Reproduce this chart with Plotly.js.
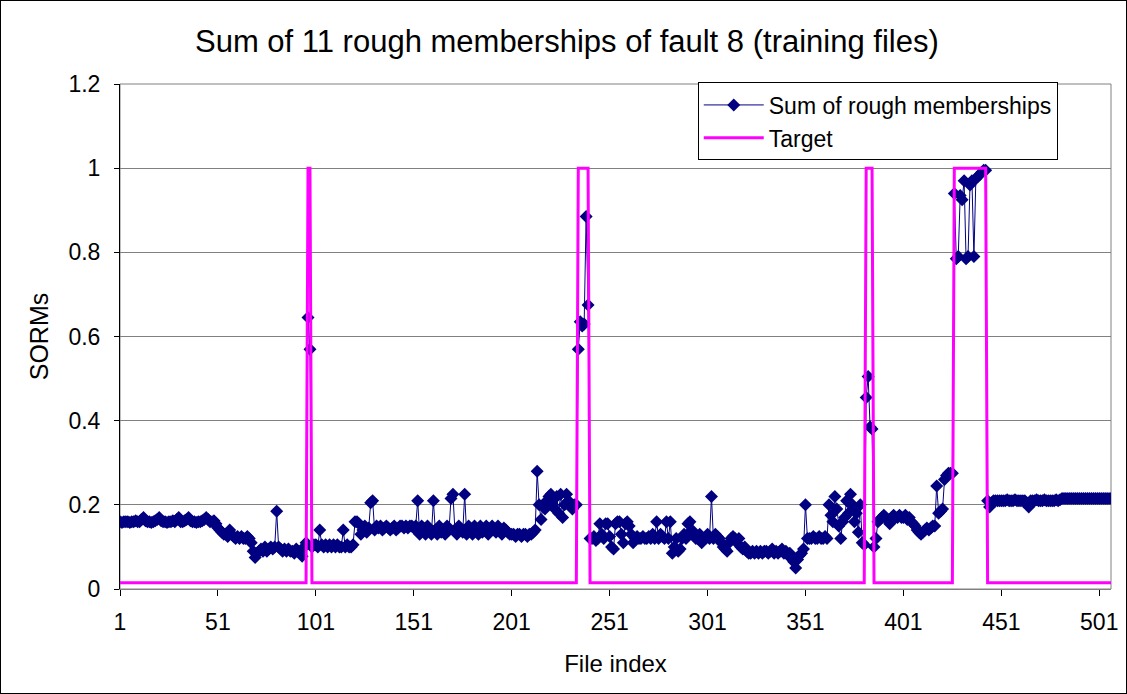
<!DOCTYPE html>
<html>
<head>
<meta charset="utf-8">
<script src="https://cdn.plot.ly/plotly-3.0.1.min.js"></script>
<style>
html,body{margin:0;padding:0;background:#fff;}
#wrap{position:relative;width:1127px;height:694px;}
#chart{position:absolute;left:0;top:0;width:1127px;height:694px;}
#frame{position:absolute;left:0;top:0;width:1127px;height:694px;box-sizing:border-box;border:1px solid #000;pointer-events:none;}
</style>
</head>
<body>
<div id="wrap"><div id="chart"></div><div id="frame"></div></div>
<script>
// Sum of rough memberships, file index 1..507
const sorms = [
0.16,0.158,0.16,0.16,0.16,0.158,0.16,0.16,0.162,0.16,
0.16,0.165,0.17,0.162,0.16,0.16,0.158,0.16,0.162,0.165,
0.17,0.162,0.16,0.16,0.158,0.16,0.16,0.162,0.16,0.165,
0.17,0.16,0.16,0.162,0.165,0.17,0.162,0.16,0.16,0.158,
0.16,0.16,0.162,0.165,0.17,0.165,0.16,0.16,0.162,0.155,
0.145,0.14,0.135,0.13,0.13,0.125,0.14,0.13,0.125,0.12,
0.125,0.12,0.125,0.12,0.12,0.125,0.12,0.11,0.09,0.075,
0.085,0.09,0.095,0.09,0.1,0.09,0.095,0.1,0.095,0.1,
0.185,0.1,0.095,0.09,0.095,0.09,0.095,0.09,0.09,0.085,
0.095,0.09,0.085,0.078,0.1,0.11,0.645,0.57,0.1,0.105,
0.105,0.1,0.14,0.105,0.1,0.105,0.1,0.105,0.1,0.105,
0.1,0.105,0.1,0.1,0.14,0.1,0.105,0.1,0.1,0.105,
0.16,0.16,0.155,0.13,0.14,0.15,0.135,0.145,0.205,0.21,
0.14,0.15,0.145,0.15,0.14,0.145,0.15,0.145,0.14,0.145,
0.15,0.14,0.145,0.15,0.15,0.145,0.15,0.145,0.15,0.15,
0.145,0.15,0.21,0.13,0.15,0.145,0.13,0.15,0.14,0.13,
0.21,0.14,0.13,0.15,0.135,0.14,0.13,0.15,0.14,0.215,
0.225,0.14,0.13,0.15,0.14,0.135,0.225,0.13,0.15,0.14,
0.13,0.15,0.14,0.13,0.15,0.135,0.14,0.15,0.13,0.14,
0.15,0.14,0.135,0.15,0.14,0.13,0.145,0.14,0.135,0.13,
0.13,0.13,0.125,0.13,0.13,0.125,0.13,0.13,0.125,0.13,
0.13,0.135,0.14,0.28,0.2,0.165,0.2,0.19,0.21,0.22,
0.225,0.2,0.19,0.22,0.18,0.225,0.17,0.2,0.225,0.21,
0.2,0.19,0.2,0.2,0.57,0.635,0.625,0.63,0.885,0.675,
0.12,0.12,0.125,0.115,0.12,0.155,0.13,0.12,0.155,0.155,
0.125,0.1,0.095,0.155,0.16,0.16,0.13,0.11,0.155,0.16,
0.15,0.13,0.11,0.12,0.125,0.12,0.12,0.125,0.12,0.12,
0.125,0.12,0.13,0.12,0.16,0.12,0.13,0.125,0.12,0.16,
0.12,0.16,0.085,0.1,0.12,0.09,0.095,0.12,0.13,0.12,
0.155,0.16,0.14,0.13,0.12,0.12,0.13,0.11,0.12,0.12,
0.13,0.12,0.22,0.12,0.13,0.125,0.12,0.11,0.1,0.095,
0.09,0.11,0.12,0.125,0.12,0.11,0.12,0.1,0.095,0.1,
0.09,0.085,0.085,0.09,0.085,0.09,0.085,0.09,0.085,0.09,
0.09,0.085,0.09,0.095,0.085,0.09,0.085,0.09,0.095,0.085,
0.09,0.08,0.085,0.075,0.065,0.05,0.07,0.08,0.085,0.095,
0.2,0.12,0.12,0.12,0.125,0.12,0.12,0.125,0.12,0.12,
0.125,0.12,0.2,0.175,0.16,0.22,0.19,0.15,0.12,0.16,
0.17,0.21,0.18,0.225,0.2,0.16,0.18,0.135,0.2,0.11,
0.105,0.455,0.505,0.385,0.38,0.1,0.12,0.16,0.165,0.17,
0.175,0.17,0.165,0.155,0.17,0.175,0.17,0.17,0.175,0.17,
0.17,0.175,0.165,0.17,0.16,0.155,0.15,0.14,0.135,0.13,
0.135,0.14,0.145,0.14,0.145,0.15,0.15,0.245,0.18,0.185,
0.19,0.26,0.27,0.275,0.275,0.275,0.94,0.785,0.79,0.935,
0.925,0.97,0.785,0.79,0.96,0.97,0.79,0.975,0.98,0.985,
0.99,0.995,0.995,0.21,0.195,0.205,0.21,0.21,0.21,0.21,
0.21,0.21,0.21,0.212,0.21,0.21,0.21,0.212,0.21,0.21,
0.21,0.21,0.21,0.205,0.195,0.21,0.21,0.21,0.212,0.21,
0.21,0.21,0.212,0.21,0.21,0.21,0.21,0.21,0.212,0.21,
0.212,0.215,0.215,0.215,0.215,0.215,0.215,0.215,0.215,0.215,
0.215,0.215,0.215,0.215,0.215,0.215,0.215,0.215,0.215,0.215,
0.215,0.215,0.215,0.215,0.215,0.215,0.215
];
// Target step line: corner points (file index, value)
const targetX = [1, 96, 97, 98, 99, 234, 235, 240, 241, 381, 382, 385, 386, 426, 427, 443, 444, 507];
const targetY = [0.015, 0.015, 1, 1, 0.015, 0.015, 1, 1, 0.015, 0.015, 1, 1, 0.015, 0.015, 1, 1, 0.015, 0.015];
const tickVals = [1, 51, 101, 151, 201, 251, 301, 351, 401, 451, 501];
const tickText = ["1", "51", "101", "151", "201", "251", "301", "351", "401", "451", "501"];
const fileIndex = sorms.map((v, i) => i + 1);

const F = "Liberation Sans, Arial, sans-serif";
const traces = [
  {
    x: fileIndex, y: sorms, type: "scatter", mode: "lines+markers",
    name: "Sum of rough memberships",
    line: {color: "#000080", width: 1},
    marker: {symbol: "diamond", size: 10, color: "#000080"}
  },
  {
    x: targetX, y: targetY, type: "scatter", mode: "lines",
    name: "Target",
    line: {color: "#FF00FF", width: 3}
  }
];
const layout = {
  width: 1127, height: 694,
  margin: {l: 120, r: 16, t: 84, b: 105},
  paper_bgcolor: "#fff", plot_bgcolor: "#fff",
  font: {family: F, color: "#000", size: 22},
  title: {text: "Sum of 11 rough memberships of fault 8 (training files)", font: {family: F, size: 31, color: "#000"}, x: 0.503, xanchor: "center", y: 0.94, yanchor: "middle"},
  xaxis: {
    range: [1, 507], tickmode: "array", tickvals: tickVals, ticktext: tickText,
    ticks: "outside", ticklen: 6, tickcolor: "#000", tickwidth: 1,
    showgrid: false, zeroline: false, showline: true, linecolor: "#808080", linewidth: 1,
    tickfont: {family: F, size: 23}, ticklabelstandoff: 6,
    title: {text: "File index", font: {family: F, size: 24}, standoff: 21}
  },
  yaxis: {
    range: [0, 1.2], dtick: 0.2, tick0: 0,
    ticks: "outside", ticklen: 5, tickcolor: "#000",
    showgrid: true, gridcolor: "#808080", gridwidth: 1, zeroline: false,
    showline: true, linecolor: "#000", linewidth: 1,
    tickfont: {family: F, size: 23}, ticklabelstandoff: 9,
    title: {text: "SORMs", font: {family: F, size: 25}, standoff: 12}
  },
  shapes: [
    {type: "rect", xref: "paper", yref: "paper", x0: 0, x1: 1, y0: 0, y1: 1, line: {color: "#808080", width: 1}, layer: "below"}
  ],
  legend: {
    x: 0.583, y: 1.003, xanchor: "left", yanchor: "top",
    bgcolor: "#fff", bordercolor: "#000", borderwidth: 1,
    font: {family: F, size: 23}, itemwidth: 60, tracegroupgap: 0
  },
  showlegend: true
};
Plotly.newPlot("chart", traces, layout, {displayModeBar: false, staticPlot: true});
</script>
</body>
</html>
